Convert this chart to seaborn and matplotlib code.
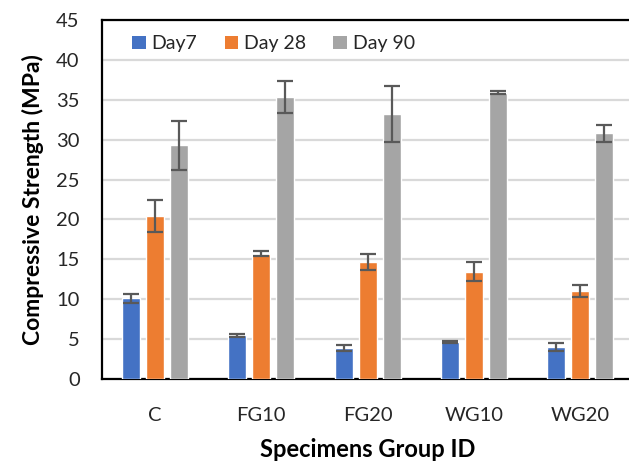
import matplotlib
matplotlib.use("Agg")
import matplotlib.pyplot as plt
from matplotlib.patches import Patch
import seaborn as sns
import pandas as pd

# Mean compressive strength (MPa) and standard deviation per specimen group
groups = ["C", "FG10", "FG20", "WG10", "WG20"]
ages = ["Day7", "Day 28", "Day 90"]
day7 = [10.1, 5.45, 3.9, 4.6, 4.0]
day28 = [20.4, 15.7, 14.6, 13.45, 11.0]
day90 = [29.3, 35.4, 33.2, 35.9, 30.8]
day7_sd = [0.55, 0.15, 0.35, 0.1, 0.5]
day28_sd = [2.0, 0.35, 1.0, 1.15, 0.75]
day90_sd = [3.1, 2.0, 3.5, 0.15, 1.05]
yticks = [0, 5, 10, 15, 20, 25, 30, 35, 40, 45]

colors = ["#4472C4", "#ED7D31", "#A5A5A5"]

sns.set_theme(style="white")
plt.rcParams["font.family"] = ["Lato", "DejaVu Sans"]

df = pd.DataFrame({
    "group": groups * 3,
    "age": [a for a in ages for _ in groups],
    "strength": day7 + day28 + day90,
})
sds = [day7_sd, day28_sd, day90_sd]

fig = plt.figure(figsize=(6.29, 4.66), dpi=100)
ax = fig.add_axes([0.162, 0.187, 0.845, 0.770])

sns.barplot(data=df, x="group", y="strength", hue="age", order=groups,
            hue_order=ages, palette=colors, width=0.68, gap=0.25,
            errorbar=None, saturation=1, legend=False, ax=ax, zorder=3)

# error bars centred on each drawn bar
for cont, sd in zip(ax.containers, sds):
    xs = [p.get_x() + p.get_width() / 2 for p in cont.patches]
    hs = [p.get_height() for p in cont.patches]
    ax.errorbar(xs, hs, yerr=sd, fmt="none", ecolor="#595959",
                elinewidth=1.6, capsize=5.5, capthick=1.6, zorder=4)

ax.set_ylim(0, 45)
ax.set_xlim(-0.5, 4.5)
ax.set_yticks(yticks)
ax.yaxis.grid(True, color="#D9D9D9", linewidth=1.6, zorder=0)
ax.set_axisbelow(True)
for side in ["left", "top", "bottom"]:
    ax.spines[side].set_color("black")
    ax.spines[side].set_linewidth(1.6)
ax.spines["right"].set_visible(False)

ax.tick_params(axis="both", length=0, labelsize=14.5, colors="#262626")
ax.tick_params(axis="y", pad=16)
ax.tick_params(axis="x", pad=20)

ax.set_xlabel("Specimens Group ID", fontsize=17, fontweight="bold",
              color="black", labelpad=10)
ax.set_ylabel("Compressive Strength (MPa)", fontsize=16.5, fontweight="bold",
              color="black", labelpad=9)

handles = [Patch(facecolor=c, edgecolor="none", label=a) for c, a in zip(colors, ages)]
ax.legend(handles=handles, loc="upper left", bbox_to_anchor=(0.035, 0.99),
          ncol=3, frameon=False, fontsize=14, handlelength=0.7, handleheight=0.7,
          handletextpad=0.3, columnspacing=1.4, borderaxespad=0.2)

fig.savefig("out.png", dpi=100)
